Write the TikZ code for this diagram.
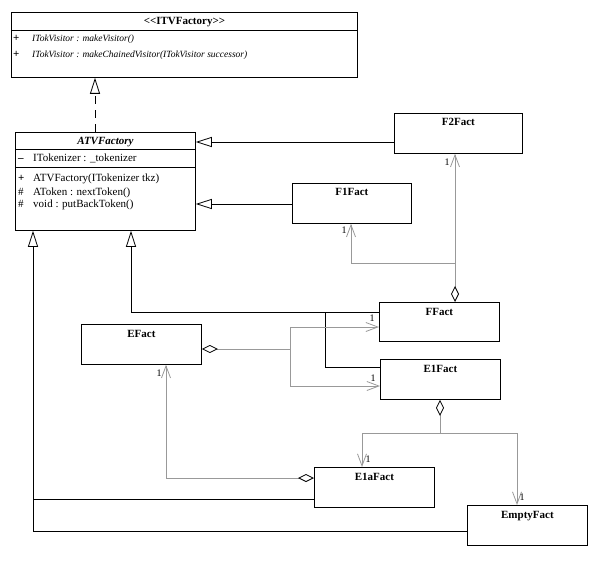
\documentclass[tikz,border=0pt]{standalone}
\usepackage{fontspec}
\setmainfont{Liberation Serif}
\usetikzlibrary{arrows.meta,calc}

\tikzset{
  fact/.style={draw, line width=0.8pt, inner sep=0pt, anchor=north west,
    minimum width=120pt, minimum height=40pt},
  facttitle/.style={label={[anchor=base, yshift=-13pt,
    font=\fontsize{11}{13}\selectfont\bfseries]north:#1}},
  row/.style={anchor=base west, inner sep=0pt},
  inh/.style={line width=0.8pt, -{Triangle[open, length=16pt, width=10pt]}},
  real/.style={inh, dash pattern=on 8pt off 6pt},
  agg/.style={draw=black!40, line width=0.8pt,
    {Diamond[open, length=16pt, width=8pt, black]}-{Straight Barb[length=12pt, width=9pt]}},
  nav/.style={draw=black!40, line width=0.8pt, -{Straight Barb[length=12pt, width=9pt]}},
  mult/.style={inner sep=0pt, font=\fontsize{10}{10}\selectfont},
}

\begin{document}
\begin{tikzpicture}[x=1pt, y=-1pt, font=\fontsize{11}{13}\selectfont]
\useasboundingbox (0,0) rectangle (599,564);

% interface
\node[fact, minimum width=346pt, minimum height=65pt] (itv) at (11,12) {};
\draw[line width=0.8pt] ($(itv.north west)+(0,18)$) -- ($(itv.north east)+(0,18)$);
\node[anchor=base, inner sep=0pt] (itvname) at ($(itv.north)+(0,13)$) {\bfseries <{}<ITVFactory>{}>};
\node[row] (itvp1) at (13,42) {\textbf{+}};
\node[row, font=\fontsize{9.5}{11}\selectfont\itshape] (itvr1) at (32,42) {ITokVisitor : makeVisitor()};
\node[row] (itvp2) at (13,58) {\textbf{+}};
\node[row, font=\fontsize{9.5}{11}\selectfont\itshape] (itvr2) at (32,58) {ITokVisitor : makeChainedVisitor(ITokVisitor successor)};

% abstract factory
\node[fact, minimum width=180pt, minimum height=98pt] (atv) at (15,132) {};
\draw[line width=0.8pt] ($(atv.north west)+(0,17)$) -- ($(atv.north east)+(0,17)$);
\draw[line width=0.8pt] ($(atv.north west)+(0,35)$) -- ($(atv.north east)+(0,35)$);
\node[anchor=base, inner sep=0pt] (atvname) at ($(atv.north)+(0,13)$) {\bfseries\itshape ATVFactory};
\node[row] (atvs1) at (18,162) {\textbf{--}};
\node[row] (atvr1) at (33,162) {ITokenizer : \_tokenizer};
\node[row] (atvs2) at (18,182) {\textbf{+}};
\node[row] (atvr2) at (33,182) {ATVFactory(ITokenizer tkz)};
\node[row] (atvs3) at (18,195) {\#};
\node[row] (atvr3) at (33,195) {AToken : nextToken()};
\node[row] (atvs4) at (18,207) {\#};
\node[row] (atvr4) at (33,207) {void : putBackToken()};

% concrete factories
\node[fact, minimum width=128pt, facttitle=F2Fact] (f2) at (394,113) {};
\node[fact, minimum width=119pt, facttitle=F1Fact] (f1) at (292,183) {};
\node[fact, minimum height=39pt, facttitle=FFact] (ff) at (379,302) {};
\node[fact, facttitle=E1Fact] (e1) at (380,359) {};
\node[fact, facttitle=EFact] (ef) at (81,324) {};
\node[fact, facttitle=E1aFact] (e1a) at (314,467) {};
\node[fact, facttitle=EmptyFact] (empty) at (467,505) {};

% realization and generalization
\draw[real] ($(atv.north west)+(80,0)$) -- ($(itv.south west)+(84,0)$);
\draw[inh] ($(f2.north west)+(0,29)$) coordinate (f2in) -- (f2in -| atv.east);
\draw[inh] ($(f1.north west)+(0,21)$) coordinate (f1in) -- (f1in -| atv.east);
\coordinate (atvS1) at ($(atv.south west)+(116,0)$);
\coordinate (atvS2) at ($(atv.south west)+(18,0)$);
\draw[inh] ($(ff.north west)+(0,10)$) coordinate (ffin) -| (atvS1);
\draw[line width=0.8pt] ($(e1.north west)+(0,8)$) -| ($(ffin)+(-54,0)$);
\draw[inh] ($(empty.north west)+(0,26)$) -| (atvS2);
\draw[line width=0.8pt] ($(e1a.north west)+(0,32)$) coordinate (e1ain) -- (e1ain -| atvS2);

% aggregations
\coordinate (ffA) at ($(ff.north west)+(76,0)$);
\draw[agg] (ffA) -- (ffA |- f2.south);
\draw[nav] ($(ffA)+(0,-39)$) -| ($(f1.south west)+(59,0)$);
\draw[agg] ($(ef.north east)+(0,25)$) -- +(89,0) coordinate (efJ) |- ($(ff.north west)+(0,25)$);
\draw[nav] (efJ) |- ($(e1.north west)+(0,27)$);
\coordinate (e1A) at ($(e1.south west)+(60,0)$);
\draw[agg] (e1A) -- +(0,34) coordinate (e1J) -| ($(e1a.north west)+(48,0)$);
\draw[nav] (e1J) -| ($(empty.north west)+(50,0)$);
\draw[agg] ($(e1a.north west)+(0,11)$) -| ($(ef.south west)+(85,0)$);

% multiplicities
\node[mult] (m1) at (447,162) {1};
\node[mult] (m2) at (344,230) {1};
\node[mult] (m3) at (372,318) {1};
\node[mult] (m4) at (373,378) {1};
\node[mult] (m5) at (159,373) {1};
\node[mult] (m6) at (368,459) {1};
\node[mult] (m7) at (522,497) {1};
\end{tikzpicture}
\end{document}
